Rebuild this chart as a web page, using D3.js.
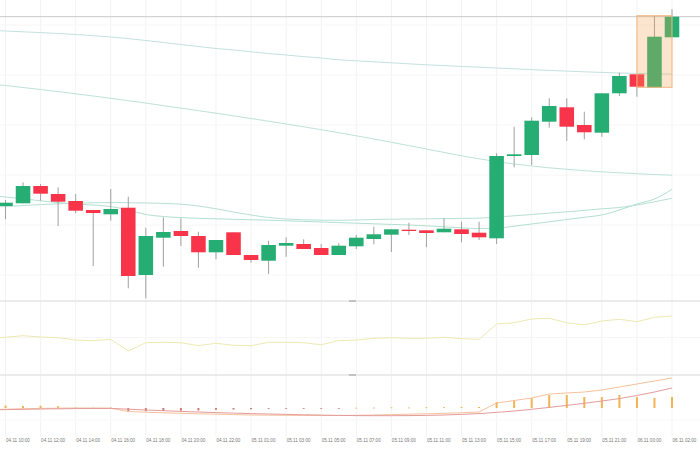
<!DOCTYPE html>
<html><head><meta charset="utf-8">
<script src="https://cdn.jsdelivr.net/npm/d3@7/dist/d3.min.js"></script>
<style>html,body{margin:0;padding:0;background:#fff;}svg{display:block;}</style>
</head><body><svg id="c" width="700" height="450"></svg>
<script>
const times = ["04.11 10:00","04.11 11:00","04.11 12:00","04.11 13:00","04.11 14:00","04.11 15:00","04.11 16:00","04.11 17:00","04.11 18:00","04.11 19:00","04.11 20:00","04.11 21:00","04.11 22:00","04.11 23:00","05.11 01:00","05.11 02:00","05.11 03:00","05.11 04:00","05.11 05:00","05.11 06:00","05.11 07:00","05.11 08:00","05.11 09:00","05.11 10:00","05.11 11:00","05.11 12:00","05.11 13:00","05.11 14:00","05.11 15:00","05.11 16:00","05.11 17:00","05.11 18:00","05.11 19:00","05.11 20:00","05.11 21:00","05.11 22:00","06.11 00:00","06.11 01:00","06.11 02:00"];
const open  = [109.40,109.67,111.40,110.60,109.90,109.00,108.57,109.23,102.50,106.23,106.90,106.40,104.77,106.77,104.50,103.93,105.43,105.60,105.20,104.50,105.37,106.10,106.53,107.03,106.97,106.77,107.07,106.73,106.17,114.40,114.50,117.83,119.27,117.50,116.73,120.67,122.57,121.23,126.27];
const high  = [110.00,111.77,111.60,111.27,110.60,109.00,111.10,110.33,107.23,108.27,108.17,106.83,106.00,106.77,104.50,105.93,106.27,106.07,105.60,105.67,106.50,107.33,107.07,107.73,106.97,108.17,107.83,107.83,114.67,117.33,118.27,120.17,120.17,118.83,120.67,122.73,122.57,128.43,129.07];
const low   = [108.07,109.67,109.93,107.40,108.67,103.40,107.93,101.17,100.17,103.33,105.40,103.23,104.07,104.50,103.73,102.60,104.33,105.10,104.50,104.50,105.10,105.57,104.80,106.50,105.27,106.77,105.77,106.00,105.60,113.27,113.50,117.23,115.90,116.07,116.33,120.40,120.33,121.23,126.27];
const close = [109.73,111.40,110.63,109.83,108.93,108.70,109.10,102.40,106.40,106.80,106.40,104.77,106.00,104.50,104.00,105.50,105.70,105.10,104.50,105.43,106.23,106.57,107.07,106.90,106.70,107.13,106.60,106.27,114.40,114.57,117.93,119.40,117.33,116.77,120.67,122.40,121.33,126.33,128.33];
// moving averages: first value belongs to the bar just before the visible window
const maA = [127.00,126.90,126.82,126.74,126.65,126.55,126.43,126.30,126.14,125.95,125.75,125.55,125.35,125.15,125.00,124.82,124.65,124.50,124.34,124.20,124.02,123.92,123.82,123.72,123.62,123.52,123.44,123.36,123.28,123.20,123.12,123.04,122.96,122.89,122.82,122.76,122.70,122.66,122.62,122.59];
const maB = [121.65,121.45,121.25,121.05,120.84,120.62,120.40,120.17,119.93,119.69,119.44,119.19,118.93,118.68,118.42,118.15,117.88,117.60,117.32,117.03,116.73,116.42,116.10,115.77,115.44,115.10,114.76,114.42,114.12,113.84,113.60,113.40,113.22,113.07,112.94,112.82,112.72,112.63,112.55,112.48];
const maC = [109.25,109.35,109.45,109.54,109.62,109.68,109.72,109.74,109.73,109.70,109.66,109.58,109.40,109.12,108.80,108.50,108.25,108.10,108.02,107.98,107.97,108.00,108.05,108.08,108.10,108.12,108.14,108.16,108.18,108.30,108.42,108.55,108.68,108.82,108.96,109.12,109.25,109.50,109.82,110.17];
const maD = [110.45,110.30,110.12,109.92,109.74,109.60,109.50,109.35,109.00,108.55,108.35,108.24,108.17,108.12,108.07,108.02,107.98,107.92,107.86,107.80,107.74,107.68,107.62,107.56,107.50,107.42,107.32,107.22,107.14,107.17,107.38,107.60,107.82,108.05,108.27,108.50,109.00,109.60,110.10,111.07];
const rsi = [48.0,50.4,52.4,50.7,49.7,46.7,45.7,47.6,32.0,43.1,43.6,43.1,39.1,42.3,39.6,39.1,43.6,43.6,43.1,40.4,45.7,46.7,48.9,49.7,48.9,48.9,50.3,48.4,47.6,68.0,69.7,74.7,75.6,69.7,66.7,72.0,74.3,71.1,76.9,78.7];
const dif = [-0.15,-0.12,-0.08,-0.04,-0.02,0.00,0.00,-0.02,-0.35,-0.42,-0.48,-0.53,-0.58,-0.62,-0.66,-0.70,-0.72,-0.73,-0.74,-0.75,-0.75,-0.73,-0.70,-0.66,-0.62,-0.58,-0.53,-0.48,-0.40,0.50,0.75,1.00,1.40,1.50,1.60,1.80,2.10,2.40,2.70,3.00];
const dea = [-0.18,-0.16,-0.13,-0.10,-0.08,-0.06,-0.05,-0.04,-0.12,-0.20,-0.27,-0.34,-0.40,-0.46,-0.51,-0.56,-0.60,-0.64,-0.68,-0.71,-0.74,-0.76,-0.77,-0.77,-0.76,-0.74,-0.70,-0.64,-0.56,-0.44,-0.30,-0.13,0.06,0.26,0.47,0.70,0.94,1.25,1.60,2.00];
const hist = [0.25,0.20,0.22,0.18,0.05,0.03,0.05,-0.33,-0.32,-0.30,-0.27,-0.25,-0.18,-0.15,-0.12,-0.08,-0.06,-0.04,-0.03,-0.02,0.03,0.04,0.06,0.05,0.07,0.08,0.09,0.10,0.60,0.80,1.00,1.30,1.30,1.10,1.10,1.30,1.10,1.00,1.10];
const markFrom = "06.11 00:00", markTo = "06.11 02:00", markHigh = 128.43, markLow = 121.27;

const W = 700, H = 450;
const svg = d3.select("#c");
const xi = d3.scaleLinear().domain([0, times.length - 1]).range([5.5, 672]);
const step = xi(1) - xi(0);
const yP = d3.scaleLinear().domain([100, 130]).range([300, 0]);
const yR = d3.scaleLinear().domain([0, 100]).range([375, 300]);
const yM = d3.scaleLinear().domain([-2.7, 3.3]).range([435, 375]);
const UP = "#26ad73", DOWN = "#f7344a";

const defs = svg.append("defs");
defs.append("clipPath").attr("id","cm").append("rect").attr("x",0).attr("y",0).attr("width",W).attr("height",300);
defs.append("clipPath").attr("id","cr").append("rect").attr("x",0).attr("y",301).attr("width",W).attr("height",74);
defs.append("clipPath").attr("id","cd").append("rect").attr("x",0).attr("y",376).attr("width",W).attr("height",62);

// grid
const g = svg.append("g");
const tickIdx = times.map((t,i)=>i).filter(i => i % 2 === 0);
g.selectAll("line.v").data(tickIdx).join("line")
  .attr("x1", i=>xi(i)).attr("x2", i=>xi(i)).attr("y1",0).attr("y2",437)
  .attr("stroke","#f3f3f3").attr("stroke-width",1);
const hMain = [112.5,117.5,122.5,127.5,107.5,102.5];
g.selectAll("line.hm").data(hMain).join("line")
  .attr("x1",0).attr("x2",W).attr("y1",d=>yP(d)).attr("y2",d=>yP(d))
  .attr("stroke","#f6f6f6");
g.append("line").attr("x1",0).attr("x2",W).attr("y1",yR(50)).attr("y2",yR(50)).attr("stroke","#f6f6f6");
g.append("line").attr("x1",0).attr("x2",W).attr("y1",yM(0)+12).attr("y2",yM(0)+12).attr("stroke","#f8f8f8");
// separators
[301, 375].forEach(y => {
  svg.append("line").attr("x1",0).attr("x2",W).attr("y1",y).attr("y2",y).attr("stroke","#e4e4e4").attr("stroke-width",1.5);
  svg.append("line").attr("x1",349).attr("x2",356).attr("y1",y).attr("y2",y).attr("stroke","#9a9a9a").attr("stroke-width",1);
});

// MA lines
const main = svg.append("g").attr("clip-path","url(#cm)");
const maLine = d3.line().x((d,j)=>xi(j-1)).y(d=>yP(d)).curve(d3.curveMonotoneX);
[[maA,"#c3e2de"],[maB,"#bde2da"],[maC,"#b6e0d5"],[maD,"#b3dfd3"]].forEach(([arr,col]) => {
  main.append("path").datum(arr).attr("d", maLine).attr("fill","none").attr("stroke",col).attr("stroke-width",1);
});

// last price line
const lastClose = close[close.length-1];
main.append("line").attr("x1",0).attr("x2",W).attr("y1",yP(lastClose)).attr("y2",yP(lastClose))
  .attr("stroke","#c9c9c9").attr("stroke-width",1);

// candles
const cw = step * 0.83;
const cd = times.map((t,i)=>({i, o:open[i], h:high[i], l:low[i], c:close[i]}));
main.selectAll("line.wick").data(cd).join("line")
  .attr("x1",d=>xi(d.i)).attr("x2",d=>xi(d.i)).attr("y1",d=>yP(d.h)).attr("y2",d=>yP(d.l))
  .attr("stroke","#a0a0a0").attr("stroke-width",1);
main.selectAll("rect.body").data(cd).join("rect")
  .attr("x",d=>xi(d.i)-cw/2).attr("width",cw)
  .attr("y",d=>yP(Math.max(d.o,d.c)))
  .attr("height",d=>Math.max(1, Math.abs(yP(d.o)-yP(d.c))))
  .attr("fill",d=>d.c>=d.o?UP:DOWN);

// mark area
const mf = times.indexOf(markFrom), mt = times.indexOf(markTo);
main.append("rect").attr("x",xi(mf)).attr("width",xi(mt)-xi(mf))
  .attr("y",yP(markHigh)).attr("height",yP(markLow)-yP(markHigh))
  .attr("fill","rgba(245,160,80,0.28)").attr("stroke","#f5b680").attr("stroke-width",1);

// RSI
const rp = svg.append("g").attr("clip-path","url(#cr)");
rp.append("path").datum(rsi).attr("d", d3.line().x((d,j)=>xi(j-1)).y(d=>yR(d)))
  .attr("fill","none").attr("stroke","#eee9b2").attr("stroke-width",1);

// MACD
const mp = svg.append("g").attr("clip-path","url(#cd)");
mp.selectAll("rect.h").data(hist).join("rect")
  .attr("x",(d,i)=>xi(i)-1).attr("width",2)
  .attr("y",d=>yM(Math.max(0,d))).attr("height",d=>Math.max(0.8, Math.abs(yM(d)-yM(0))))
  .attr("fill",d=>d>=0?"#f1b354":"#cf7b74");
const ml = d3.line().x((d,j)=>xi(j-1)).y(d=>yM(d));
mp.append("path").datum(dif).attr("d",ml).attr("fill","none").attr("stroke","#f5c29c").attr("stroke-width",1);
mp.append("path").datum(dea).attr("d",ml).attr("fill","none").attr("stroke","#e49c9c").attr("stroke-width",1);

// x labels
svg.selectAll("text.xl").data(tickIdx).join("text")
  .attr("x",i=>xi(i)+0.5).attr("y",442)
  .attr("font-family","Liberation Sans, Arial, sans-serif").attr("font-size",4.6)
  .attr("fill","#777").attr("text-anchor","start")
  .text(i=>times[i]);
</script></body></html>
